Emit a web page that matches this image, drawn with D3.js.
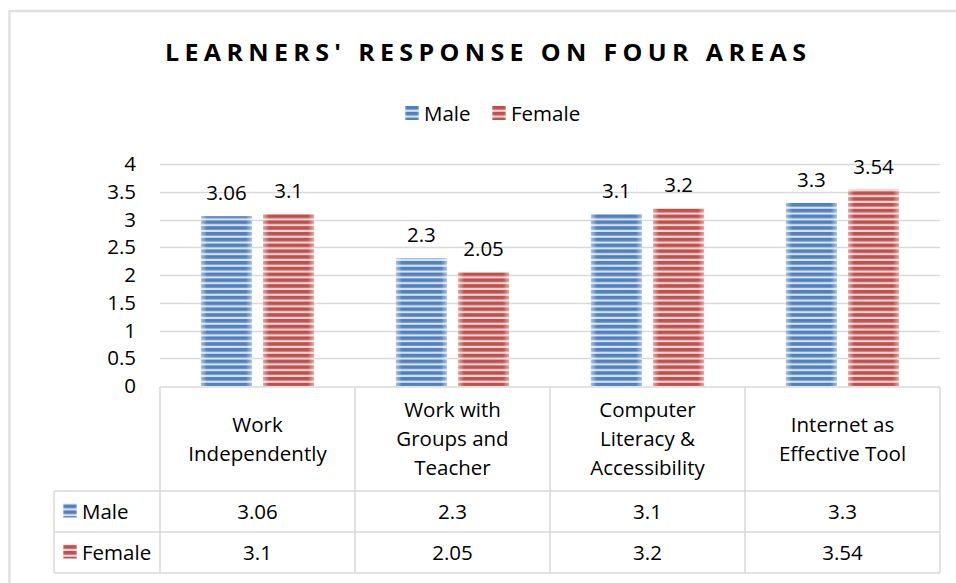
<!DOCTYPE html>
<html>
<head>
<meta charset="utf-8">
<script src="https://cdn.jsdelivr.net/npm/d3@7"></script>
<style>
  body { margin: 0; background: #fff; }
  svg { display: block; font-family: "Open Sans", Carlito, Calibri, sans-serif; }
</style>
</head>
<body>
<div id="chart"></div>
<script>
// data
const categories = ["Work Independently", "Work with Groups and Teacher", "Computer Literacy & Accessibility", "Internet as Effective Tool"];
const categoryLines = [["Work", "Independently"], ["Work with", "Groups and", "Teacher"], ["Computer", "Literacy &", "Accessibility"], ["Internet as", "Effective Tool"]];
const series = ["Male", "Female"];
const male = [3.06, 2.3, 3.1, 3.3];
const female = [3.1, 2.05, 3.2, 3.54];
const yTicks = [0, 0.5, 1, 1.5, 2, 2.5, 3, 3.5, 4];

const values = { Male: male, Female: female };
const colors = { Male: ["#4F81BD", "#D7E1EF"], Female: ["#C0504D", "#F0D6D5"] };

const width = 956, height = 583;
const plot = { left: 160, right: 940, top: 164, bottom: 386 };
const gridColor = "#D9D9D9";
const fontSize = 20.5;

const svg = d3.select("#chart").append("svg")
  .attr("width", width)
  .attr("height", height);

// striped fills
const defs = svg.append("defs");
const fade = defs.append("linearGradient").attr("id", "fade");
fade.append("stop").attr("offset", "0%").attr("stop-color", "#fff").attr("stop-opacity", 0.5);
fade.append("stop").attr("offset", "12%").attr("stop-color", "#fff").attr("stop-opacity", 0);
fade.append("stop").attr("offset", "88%").attr("stop-color", "#fff").attr("stop-opacity", 0);
fade.append("stop").attr("offset", "100%").attr("stop-color", "#fff").attr("stop-opacity", 0.5);

series.forEach(s => {
  const p = defs.append("pattern")
    .attr("id", "stripe-" + s)
    .attr("patternUnits", "userSpaceOnUse")
    .attr("width", 8).attr("height", 5.8);
  p.append("rect").attr("width", 8).attr("height", 5.8).attr("fill", colors[s][1]);
  p.append("rect").attr("width", 8).attr("height", 3.6).attr("fill", colors[s][0]);
});

// outer frame (top and left edges visible)
svg.append("line")
  .attr("x1", 9).attr("x2", width).attr("y1", 11).attr("y2", 11)
  .attr("stroke", "#E0E0E0").attr("stroke-width", 2.5);
svg.append("line")
  .attr("x1", 9.5).attr("x2", 9.5).attr("y1", 10).attr("y2", height)
  .attr("stroke", "#E0E0E0").attr("stroke-width", 2.5);

// title
const title = svg.append("text")
  .attr("x", 165).attr("y", 61)
  .attr("font-size", 25)
  .attr("font-weight", 700)
  .attr("fill", "#000")
  .attr("transform", "translate(0,61) scale(1,0.92) translate(0,-61)")
  .text("LEARNERS' RESPONSE ON FOUR AREAS");
const titleText = title.text();
const rawW = title.node().getComputedTextLength();
title.attr("letter-spacing", (806 - 165 - rawW) / (titleText.length - 1));

// legend
const legendX = [405, 492];
series.forEach((s, i) => {
  const g = svg.append("g").attr("transform", `translate(${legendX[i]},106)`);
  g.append("rect").attr("x", 0).attr("y", 0).attr("width", 14).attr("height", 14)
    .attr("fill", `url(#stripe-${s})`);
  g.append("rect").attr("x", 0).attr("y", 0).attr("width", 14).attr("height", 14)
    .attr("fill", "url(#fade)");
  g.append("text").attr("x", 19).attr("y", 14.5)
    .attr("font-size", fontSize).attr("fill", "#000").text(s);
});

// scales
const x = d3.scaleBand().domain(categories).range([plot.left, plot.right]);
const x1 = d3.scaleBand().domain(series)
  .range([x.bandwidth() * 0.21, x.bandwidth() * 0.79])
  .paddingInner(0.18);
const y = d3.scaleLinear().domain([0, 4]).range([plot.bottom, plot.top]);

// gridlines
svg.append("g")
  .selectAll("line")
  .data(yTicks.slice(1))
  .join("line")
  .attr("x1", plot.left).attr("x2", plot.right)
  .attr("y1", d => Math.round(y(d)) + 0.5).attr("y2", d => Math.round(y(d)) + 0.5)
  .attr("stroke", gridColor)
  .attr("stroke-width", 1.5);

// y axis labels
const yAxis = svg.append("g")
  .attr("transform", `translate(${plot.left},0)`)
  .call(d3.axisLeft(y).tickValues(yTicks).tickSize(0).tickPadding(24).tickFormat(d3.format("")));
yAxis.select(".domain").remove();
yAxis.selectAll("text").attr("font-size", fontSize).attr("fill", "#000")
  .attr("font-family", "'Open Sans', Carlito, Calibri, sans-serif");

// bars
const groups = svg.append("g")
  .selectAll("g")
  .data(categories)
  .join("g")
  .attr("transform", d => `translate(${x(d)},0)`);

groups.each(function (c, ci) {
  const g = d3.select(this);
  series.forEach(s => {
    const v = values[s][ci];
    g.append("rect")
      .attr("x", x1(s)).attr("y", y(v))
      .attr("width", x1.bandwidth()).attr("height", y(0) - y(v))
      .attr("fill", `url(#stripe-${s})`);
    g.append("rect")
      .attr("x", x1(s)).attr("y", y(v))
      .attr("width", x1.bandwidth()).attr("height", y(0) - y(v))
      .attr("fill", "url(#fade)");
    g.append("text")
      .attr("x", x1(s) + x1.bandwidth() / 2)
      .attr("y", y(v) - 16)
      .attr("text-anchor", "middle")
      .attr("font-size", fontSize)
      .attr("fill", "#000")
      .text(v);
  });
});

// data table
const rowTop = plot.bottom + 1;
const headerBottom = 491, maleBottom = 532, femaleBottom = 573;
const labelLeft = 54;
const table = svg.append("g").attr("stroke", gridColor).attr("stroke-width", 1.5);

table.append("line").attr("x1", plot.left).attr("x2", plot.right).attr("y1", rowTop).attr("y2", rowTop);
[headerBottom, maleBottom, femaleBottom].forEach(yy => {
  table.append("line").attr("x1", labelLeft).attr("x2", plot.right).attr("y1", yy).attr("y2", yy);
});
table.append("line").attr("x1", labelLeft).attr("x2", labelLeft).attr("y1", headerBottom).attr("y2", femaleBottom);
categories.concat([null]).forEach(c => {
  const xx = c === null ? plot.right : x(c);
  table.append("line").attr("x1", xx).attr("x2", xx).attr("y1", rowTop).attr("y2", femaleBottom);
});

// category labels
categories.forEach((c, i) => {
  const lines = categoryLines[i];
  const mid = (rowTop + headerBottom) / 2;
  const lh = 29;
  const t = svg.append("text")
    .attr("text-anchor", "middle")
    .attr("font-size", fontSize)
    .attr("fill", "#000");
  lines.forEach((ln, j) => {
    t.append("tspan")
      .attr("x", x(c) + x.bandwidth() / 2)
      .attr("y", mid + (j - (lines.length - 1) / 2) * lh + 7)
      .text(ln);
  });
});

// rows
const rowMid = { Male: (headerBottom + maleBottom) / 2, Female: (maleBottom + femaleBottom) / 2 };
series.forEach(s => {
  svg.append("rect")
    .attr("x", 63).attr("y", rowMid[s] - 8)
    .attr("width", 14).attr("height", 14)
    .attr("fill", `url(#stripe-${s})`);
  svg.append("rect")
    .attr("x", 63).attr("y", rowMid[s] - 8)
    .attr("width", 14).attr("height", 14)
    .attr("fill", "url(#fade)");
  svg.append("text")
    .attr("x", 82).attr("y", rowMid[s] + 7)
    .attr("font-size", fontSize).attr("fill", "#000")
    .text(s);
  categories.forEach((c, i) => {
    svg.append("text")
      .attr("x", x(c) + x.bandwidth() / 2)
      .attr("y", rowMid[s] + 7)
      .attr("text-anchor", "middle")
      .attr("font-size", fontSize).attr("fill", "#000")
      .text(values[s][i]);
  });
});
</script>
</body>
</html>
